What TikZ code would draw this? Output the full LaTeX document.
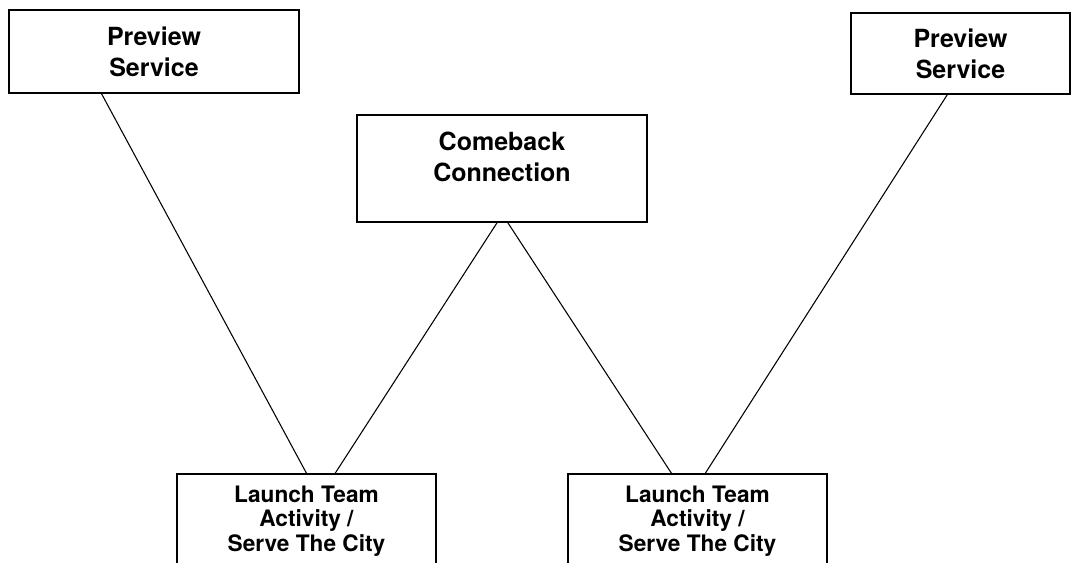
\documentclass[tikz,border=0pt]{standalone}
\usepackage{fontspec}
\setmainfont{TeX Gyre Heros}
\usetikzlibrary{calc}
\begin{document}
\begin{tikzpicture}
[x=0.75pt, y=-0.75pt,
box/.style={draw, line width=1.1pt, inner sep=0pt, align=center,
            font=\bfseries\fontsize{18.75}{23.25}\selectfont},
launchbox/.style={box, minimum width=194.25pt, minimum height=70.5pt,
            font=\bfseries\fontsize{17}{18.5}\selectfont},
link/.style={draw, line width=0.8pt}
]
\clip (0,0) rectangle (1071,563);

% top row
\node[box, minimum width=217.5pt, minimum height=62.25pt] (previewl) at (154,51.5) {Preview\\Service};
\node[box, minimum width=164.25pt, minimum height=60.75pt] (previewr) at (960.5,53.5) {Preview\\Service};

% middle box, text sits near its top edge
\node[box, minimum width=217.5pt, minimum height=80.25pt] (comeback) at (502,168.5) {};
\node[box, draw=none, anchor=north] (comebacktext) at ([yshift=-12.5pt]comeback.north) {Comeback\\Connection};

% bottom row (runs off the page)
\node[launchbox] (launchl) at (306.5,521) {Launch Team\\Activity /\\Serve The City};
\node[launchbox] (launchr) at (697.5,521) {Launch Team\\Activity /\\Serve The City};

\path[link] ($(previewl.south west)!0.32!(previewl.south east)$) -- (launchl.north);
\path[link] ($(comeback.south west)!0.483!(comeback.south east)$) -- ($(launchl.north west)!0.61!(launchl.north east)$);
\path[link] ($(comeback.south west)!0.52!(comeback.south east)$) -- ($(launchr.north west)!0.40!(launchr.north east)$);
\path[link] ($(previewr.south west)!0.44!(previewr.south east)$) -- ($(launchr.north west)!0.53!(launchr.north east)$);
\end{tikzpicture}
\end{document}
